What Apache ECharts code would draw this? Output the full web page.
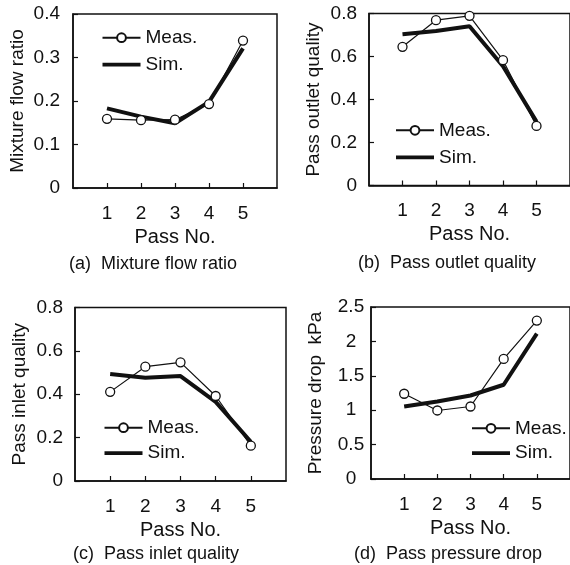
<!DOCTYPE html>
<html>
<head>
<meta charset="utf-8">
<script src="https://cdn.jsdelivr.net/npm/echarts@6/dist/echarts.min.js"></script>
<style>
html,body{margin:0;padding:0;background:#fff;}
#main{width:570px;height:565px;}
</style>
</head>
<body>
<div id="main"></div>
<script>
const passNo = [1, 2, 3, 4, 5];
const mixMeas = [0.159, 0.156, 0.157, 0.193, 0.339];
const mixSim = [0.183, 0.164, 0.149, 0.198, 0.321];
const outMeas = [0.645, 0.769, 0.789, 0.583, 0.277];
const outSim = [0.704, 0.719, 0.741, 0.555, 0.297];
const inMeas = [0.411, 0.527, 0.547, 0.392, 0.163];
const inSim = [0.493, 0.476, 0.484, 0.365, 0.181];
const dpMeas = [1.239, 0.996, 1.054, 1.745, 2.303];
const dpSim = [1.054, 1.127, 1.214, 1.370, 2.114];

const yNames = ['Mixture flow ratio', 'Pass outlet quality', 'Pass inlet quality', 'Pressure drop  kPa'];
const captions = ['(a)  Mixture flow ratio', '(b)  Pass outlet quality', '(c)  Pass inlet quality', '(d)  Pass pressure drop'];
const yMax = [0.4, 0.8, 0.8, 2.5];
const yInterval = [0.1, 0.2, 0.2, 0.5];
const measData = [mixMeas, outMeas, inMeas, dpMeas];
const simData = [mixSim, outSim, inSim, dpSim];

const FONT = '"Liberation Sans", Arial, sans-serif';
const INK = '#111';

const grids = [
  {left: 73, top: 14, width: 204, height: 174},
  {left: 369, top: 13.5, width: 204, height: 172},
  {left: 75, top: 307.5, width: 211, height: 173.5},
  {left: 371, top: 307, width: 204, height: 172}
];
const legendPos = [
  {left: 101.5, top: 28.2},
  {left: 395, top: 120.8},
  {left: 103.5, top: 418.2},
  {left: 471, top: 418.8}
];
const legendGap = [8, 8.1, 6.4, 5.8];
const captionPos = [
  {x: 153, y: 255},
  {x: 447, y: 253.7},
  {x: 156, y: 545.3},
  {x: 448, y: 545.3}
];
const yLabelAlign = ['right', 'right', 'right', 'center'];
const yLabelMargin = [13, 12, 12, 20];

const option = {
  backgroundColor: '#fff',
  animation: false,
  textStyle: {fontFamily: FONT, color: INK},
  grid: grids.map(g => Object.assign({show: true, borderColor: INK, borderWidth: 1.5, containLabel: false}, g)),
  title: captions.map((c, i) => ({
    text: c, left: captionPos[i].x, top: captionPos[i].y, textAlign: 'center', padding: 0,
    textStyle: {fontFamily: FONT, fontSize: 18, fontWeight: 'normal', color: INK}
  })),
  legend: grids.map((g, i) => ({
    orient: 'vertical', padding: 0,
    left: legendPos[i].left, top: legendPos[i].top,
    itemWidth: 38, itemHeight: 11, itemGap: legendGap[i],
    selectedMode: false,
    textStyle: {fontFamily: FONT, fontSize: 19, color: INK},
    data: [
      {name: 'Meas.'},
      {name: 'Sim.', icon: 'path://M0,0H40V4H0Z', itemStyle: {color: INK}}
    ]
  })),
  xAxis: grids.map((g, i) => ({
    gridIndex: i, type: 'value', min: 0, max: 6, interval: 1,
    name: 'Pass No.', nameLocation: 'middle', nameGap: 39,
    nameTextStyle: {fontFamily: FONT, fontSize: 20, color: INK},
    axisLine: {show: true, lineStyle: {color: INK, width: 1.5}},
    axisTick: {show: true, inside: true, length: 5, lineStyle: {color: INK, width: 1.2}, customValues: passNo},
    axisLabel: {fontFamily: FONT, fontSize: 19, color: INK, margin: 16, customValues: passNo},
    splitLine: {show: false}
  })),
  yAxis: grids.map((g, i) => ({
    gridIndex: i, type: 'value', min: 0, max: yMax[i], interval: yInterval[i],
    name: yNames[i], nameLocation: 'middle', nameRotate: 90, nameGap: 46,
    nameTextStyle: {fontFamily: FONT, fontSize: 19, color: INK},
    axisLine: {show: true, lineStyle: {color: INK, width: 1.5}},
    axisTick: {show: true, inside: true, length: 5, lineStyle: {color: INK, width: 1.2}},
    axisLabel: {fontFamily: FONT, fontSize: 19, color: INK, margin: yLabelMargin[i], align: yLabelAlign[i]},
    splitLine: {show: false}
  })),
  series: []
};

for (let i = 0; i < 4; i++) {
  option.series.push({
    name: 'Sim.', type: 'line', xAxisIndex: i, yAxisIndex: i,
    data: passNo.map((p, k) => [p, simData[i][k]]),
    showSymbol: false, symbol: 'none',
    lineStyle: {color: INK, width: 4},
    itemStyle: {color: INK},
    z: 2
  });
  option.series.push({
    name: 'Meas.', type: 'line', xAxisIndex: i, yAxisIndex: i,
    data: passNo.map((p, k) => [p, measData[i][k]]),
    symbol: 'circle', symbolSize: 9,
    lineStyle: {color: INK, width: 1.2},
    itemStyle: {color: '#fff', borderColor: INK, borderWidth: 1.3},
    z: 3
  });
}

const chart = echarts.init(document.getElementById('main'), null, {renderer: 'canvas'});
chart.setOption(option);
</script>
</body>
</html>
